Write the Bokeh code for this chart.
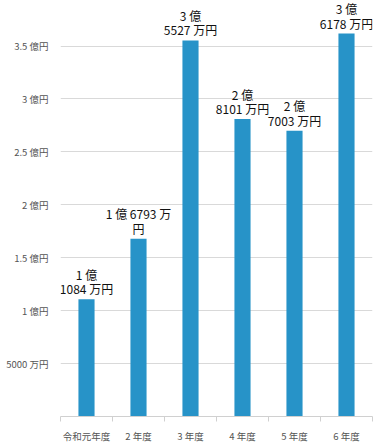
from bokeh.plotting import figure
from bokeh.models import FixedTicker, ColumnDataSource, Range1d
from bokeh.core.properties import value
from bokeh.embed import file_html
from bokeh.resources import INLINE

categories = ["令和元年度", "2 年度", "3 年度", "4 年度", "5 年度", "6 年度"]
values_oku = [1.1084, 1.6793, 3.5527, 2.8101, 2.7003, 3.6178]
bar_labels = ["1 億\n1084 万円", "1 億 6793 万\n円", "3 億\n5527 万円",
              "2 億\n8101 万円", "2 億\n7003 万円", "3 億\n6178 万円"]
y_ticks = [0.5, 1.0, 1.5, 2.0, 2.5, 3.0, 3.5]
y_tick_labels = ["5000 万円", "1 億円", "1.5 億円", "2 億円", "2.5 億円", "3 億円", "3.5 億円"]

FONT = "Noto Sans CJK JP"
n = len(categories)
xs = [i + 0.5 for i in range(n)]

src = ColumnDataSource(dict(x=xs, top=values_oku, label=bar_labels))

p = figure(width=376, height=445, output_backend="svg", toolbar_location=None,
           x_range=Range1d(0, n), y_range=Range1d(0, 3.93),
           min_border_left=60, min_border_right=4, min_border_top=0, min_border_bottom=24)
p.outline_line_color = None
p.background_fill_color = "white"

p.vbar(x="x", top="top", width=0.31, bottom=0, source=src,
       fill_color="#2793c8", line_color=None)
p.text(x="x", y="top", text="label", source=src, text_align="center",
       text_baseline="bottom", y_offset=-2, text_font=value(FONT),
       text_font_size="12px", text_color="#111111", text_line_height=0.85)

# y axis
p.yaxis.ticker = FixedTicker(ticks=y_ticks)
p.yaxis.major_label_overrides = {t: l for t, l in zip(y_ticks, y_tick_labels)}
p.yaxis.axis_line_color = None
p.yaxis.major_tick_line_color = None
p.yaxis.minor_tick_line_color = None
p.yaxis.major_label_text_font = FONT
p.yaxis.major_label_text_font_size = "9.5px"
p.yaxis.major_label_text_color = "#555555"
p.yaxis.major_label_standoff = 6
p.ygrid.grid_line_color = "#d9d9d9"
p.ygrid.ticker = FixedTicker(ticks=y_ticks)

# x axis
p.xaxis.ticker = FixedTicker(ticks=xs, minor_ticks=list(range(n + 1)))
p.xaxis.major_label_overrides = {x: c for x, c in zip(xs, categories)}
p.xaxis.axis_line_color = "#d0d0d0"
p.xaxis.major_tick_line_color = None
p.xaxis.minor_tick_line_color = "#d0d0d0"
p.xaxis.minor_tick_out = 5
p.xaxis.minor_tick_in = 0
p.xaxis.major_label_text_font = FONT
p.xaxis.major_label_text_font_size = "9.5px"
p.xaxis.major_label_text_color = "#555555"
p.xaxis.major_label_standoff = 6
p.xgrid.grid_line_color = None

open("out.html", "w").write(file_html(p, INLINE))
